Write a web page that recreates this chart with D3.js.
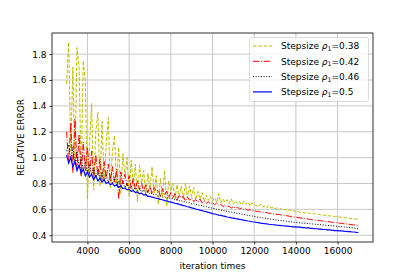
<!DOCTYPE html>
<html>
<head>
<meta charset="utf-8">
<script src="https://cdn.jsdelivr.net/npm/d3@7"></script>
<style>
  body { margin: 0; background: #fff; }
  svg { display: block; font-family: "DejaVu Sans", sans-serif; }
</style>
</head>
<body>
<div id="chart"></div>
<script>
// iterations run 3000..17000, one sample every 100
var iterStart = 3000;
var iterStep = 100;

var stepsizes = ['0.38', '0.42', '0.46', '0.5'];
var xTicks = [4000, 6000, 8000, 10000, 12000, 14000, 16000];
var yTicks = [0.4, 0.6, 0.8, 1.0, 1.2, 1.4, 1.6, 1.8];

var err038 = [
  1.57,1.89,1.05,1.70,0.95,1.85,1.70,0.85,1.75,1.59,
  0.68,1.10,1.42,0.75,1.20,1.35,0.78,1.28,0.82,1.10,
  1.31,0.76,1.05,1.17,0.80,1.08,0.72,1.03,0.85,1.00,
  0.70,0.98,0.78,0.95,0.66,0.94,0.80,0.90,0.70,0.88,
  0.76,0.93,0.72,0.86,0.64,0.84,0.70,0.90,0.62,0.82,
  0.74,0.80,0.68,0.79,0.70,0.78,0.68,0.80,0.69,0.78,
  0.70,0.77,0.67,0.74,0.68,0.73,0.66,0.71,0.67,0.70,
  0.665,0.69,0.655,0.72,0.65,0.68,0.655,0.675,0.645,0.68,
  0.64,0.665,0.645,0.66,0.635,0.665,0.64,0.655,0.625,0.65,
  0.635,0.63,0.62,0.64,0.62,0.625,0.61,0.63,0.61,0.615,
  0.605,0.612,0.598,0.606,0.597,0.600,0.590,0.596,0.585,0.590,
  0.582,0.586,0.577,0.581,0.572,0.576,0.568,0.571,0.564,0.567,
  0.560,0.562,0.556,0.558,0.552,0.554,0.549,0.550,0.545,0.546,
  0.542,0.541,0.538,0.537,0.534,0.533,0.530,0.529,0.526,0.525,
  0.522
];

var err042 = [
  1.20,0.95,1.27,0.88,1.30,0.92,1.18,0.86,1.12,0.90,
  1.08,0.87,1.05,0.85,1.02,0.86,0.99,0.83,0.97,0.84,
  0.95,0.82,0.93,0.81,0.91,0.68,0.89,0.80,0.87,0.78,
  0.86,0.76,0.84,0.75,0.82,0.75,0.80,0.74,0.79,0.73,
  0.78,0.72,0.77,0.74,0.75,0.70,0.76,0.71,0.74,0.69,
  0.73,0.69,0.72,0.67,0.71,0.69,0.70,0.665,0.695,0.67,
  0.69,0.66,0.675,0.655,0.68,0.65,0.665,0.645,0.66,0.64,
  0.655,0.635,0.65,0.63,0.64,0.62,0.635,0.62,0.625,0.61,
  0.622,0.608,0.616,0.603,0.61,0.598,0.604,0.592,0.598,0.588,
  0.590,0.585,0.585,0.580,0.580,0.575,0.575,0.570,0.570,0.565,
  0.565,0.560,0.560,0.556,0.555,0.551,0.550,0.546,0.545,0.541,
  0.540,0.536,0.535,0.531,0.530,0.526,0.525,0.521,0.520,0.517,
  0.516,0.513,0.512,0.509,0.508,0.505,0.504,0.501,0.500,0.497,
  0.496,0.493,0.492,0.489,0.488,0.485,0.484,0.481,0.480,0.477,
  0.476
];

var err046 = [
  1.05,1.10,0.98,1.08,0.95,1.05,0.93,1.00,0.90,0.97,
  0.88,0.95,0.87,0.92,0.85,0.90,0.84,0.89,0.82,0.87,
  0.81,0.85,0.80,0.84,0.79,0.82,0.78,0.81,0.77,0.80,
  0.76,0.78,0.75,0.77,0.745,0.76,0.735,0.75,0.725,0.74,
  0.72,0.725,0.71,0.715,0.70,0.705,0.695,0.70,0.687,0.69,
  0.68,0.683,0.672,0.675,0.665,0.668,0.658,0.66,0.65,0.652,
  0.643,0.645,0.636,0.637,0.628,0.63,0.621,0.622,0.614,0.615,
  0.607,0.607,0.600,0.600,0.593,0.593,0.587,0.586,0.580,0.580,
  0.574,0.573,0.568,0.567,0.562,0.561,0.556,0.555,0.550,0.549,
  0.544,0.543,0.539,0.538,0.534,0.533,0.529,0.528,0.524,0.523,
  0.519,0.518,0.515,0.513,0.511,0.509,0.507,0.505,0.503,0.501,
  0.499,0.497,0.496,0.494,0.493,0.491,0.490,0.488,0.487,0.485,
  0.484,0.482,0.481,0.479,0.478,0.476,0.475,0.473,0.472,0.470,
  0.469,0.467,0.466,0.464,0.463,0.461,0.459,0.457,0.455,0.452,
  0.450
];

var err050 = [
  1.02,0.96,1.00,0.93,0.97,0.90,0.94,0.88,0.91,0.86,
  0.89,0.85,0.87,0.83,0.86,0.82,0.84,0.81,0.83,0.80,
  0.81,0.79,0.80,0.78,0.79,0.77,0.78,0.76,0.765,0.75,
  0.755,0.74,0.745,0.73,0.735,0.72,0.725,0.71,0.715,0.70,
  0.700,0.694,0.691,0.686,0.683,0.677,0.674,0.668,0.665,0.660,
  0.656,0.652,0.647,0.644,0.638,0.635,0.629,0.626,0.620,0.617,
  0.611,0.608,0.603,0.599,0.594,0.590,0.585,0.582,0.576,0.573,
  0.567,0.564,0.560,0.556,0.553,0.549,0.546,0.541,0.539,0.534,
  0.532,0.528,0.526,0.522,0.520,0.516,0.514,0.510,0.508,0.504,
  0.502,0.499,0.497,0.494,0.492,0.489,0.488,0.485,0.483,0.481,
  0.480,0.477,0.476,0.474,0.473,0.471,0.470,0.468,0.467,0.465,
  0.465,0.462,0.462,0.459,0.459,0.456,0.456,0.453,0.453,0.450,
  0.450,0.447,0.447,0.445,0.444,0.442,0.441,0.439,0.438,0.436,
  0.436,0.433,0.433,0.431,0.430,0.428,0.428,0.425,0.425,0.422,
  0.421
];

var series = [
  { name: stepsizes[0], values: err038, color: '#bfbf00', dash: '3.7,1.6' },
  { name: stepsizes[1], values: err042, color: '#ff0000', dash: '6.4,1.6,1,1.6' },
  { name: stepsizes[2], values: err046, color: '#000000', dash: '1,1.65' },
  { name: stepsizes[3], values: err050, color: '#0000ff', dash: null }
];

var chartW = 415, chartH = 277;
var padL = 52, padR = 373, padT = 33, padB = 242;

var svg = d3.select('#chart').append('svg')
  .attr('width', chartW)
  .attr('height', chartH);

// matplotlib style 5% margins
var n = err038.length;
var xMin = iterStart, xMax = iterStart + (n - 1) * iterStep;
var allVals = d3.merge(series.map(function(s) { return s.values; }));
var yMin = d3.min(allVals), yMax = d3.max(allVals);
var xPad = (xMax - xMin) * 0.05, yPad = (yMax - yMin) * 0.05;

var x = d3.scaleLinear().domain([xMin - xPad, xMax + xPad]).range([padL, padR]);
var y = d3.scaleLinear().domain([yMin - yPad, yMax + yPad]).range([padB, padT]);

// grid
svg.append('g')
  .selectAll('line')
  .data(xTicks).enter().append('line')
  .attr('x1', function(d) { return x(d); })
  .attr('x2', function(d) { return x(d); })
  .attr('y1', padT).attr('y2', padB)
  .attr('stroke', '#c8c8c8').attr('stroke-width', 1);

svg.append('g')
  .selectAll('line')
  .data(yTicks).enter().append('line')
  .attr('y1', function(d) { return y(d); })
  .attr('y2', function(d) { return y(d); })
  .attr('x1', padL).attr('x2', padR)
  .attr('stroke', '#c8c8c8').attr('stroke-width', 1);

// lines
var plot = svg.append('g');
series.forEach(function(s) {
  var line = d3.line()
    .x(function(d, i) { return x(iterStart + i * iterStep); })
    .y(function(d) { return y(d); });
  plot.append('path')
    .datum(s.values)
    .attr('d', line)
    .attr('fill', 'none')
    .attr('stroke', s.color)
    .attr('stroke-width', s.dash ? 1.0 : 1.2)
    .attr('stroke-dasharray', s.dash);
});

// axes
var xAxis = svg.append('g')
  .attr('transform', 'translate(0,' + padB + ')')
  .call(d3.axisBottom(x).tickValues(xTicks).tickSize(2.5).tickPadding(3).tickFormat(d3.format('d')));

var yAxis = svg.append('g')
  .attr('transform', 'translate(' + padL + ',0)')
  .call(d3.axisLeft(y).tickValues(yTicks).tickSize(2.5).tickPadding(3).tickFormat(d3.format('.1f')));

[xAxis, yAxis].forEach(function(a) {
  a.select('.domain').remove();
  a.selectAll('text').attr('font-size', 9).attr('fill', '#000')
    .attr('font-family', '"DejaVu Sans", sans-serif');
  a.selectAll('line').attr('stroke', '#000').attr('stroke-width', 0.8);
});

// spines
svg.append('rect')
  .attr('x', padL).attr('y', padT)
  .attr('width', padR - padL).attr('height', padB - padT)
  .attr('fill', 'none')
  .attr('stroke', '#000')
  .attr('stroke-width', 0.8);

// labels
svg.append('text')
  .attr('x', (padL + padR) / 2)
  .attr('y', 269)
  .attr('text-anchor', 'middle')
  .attr('font-size', 9)
  .text('iteration times');

svg.append('text')
  .attr('transform', 'translate(24,' + ((padT + padB) / 2) + ') rotate(-90)')
  .attr('text-anchor', 'middle')
  .attr('font-size', 9)
  .text('RELATIVE ERROR');

// legend
var legend = svg.append('g');
legend.append('rect')
  .attr('x', 249.5).attr('y', 37.5)
  .attr('width', 119).attr('height', 64)
  .attr('rx', 2).attr('ry', 2)
  .attr('fill', '#fff').attr('fill-opacity', 0.8)
  .attr('stroke', '#d0d0d0').attr('stroke-width', 0.8);

series.forEach(function(s, i) {
  var ly = 46 + i * 15.3;
  legend.append('line')
    .attr('x1', 253).attr('x2', 272)
    .attr('y1', ly).attr('y2', ly)
    .attr('stroke', s.color)
    .attr('stroke-width', s.dash ? 1.0 : 1.2)
    .attr('stroke-dasharray', s.dash);
  var t = legend.append('text')
    .attr('x', 281).attr('y', ly + 3.2)
    .attr('font-size', 9);
  t.append('tspan').text('Stepsize ');
  t.append('tspan').attr('font-style', 'italic').text('\u03c1');
  t.append('tspan').attr('font-size', 6.3).attr('dy', 1.8).text('1');
  t.append('tspan').attr('dy', -1.8).text('=' + s.name);
});
</script>
</body>
</html>
